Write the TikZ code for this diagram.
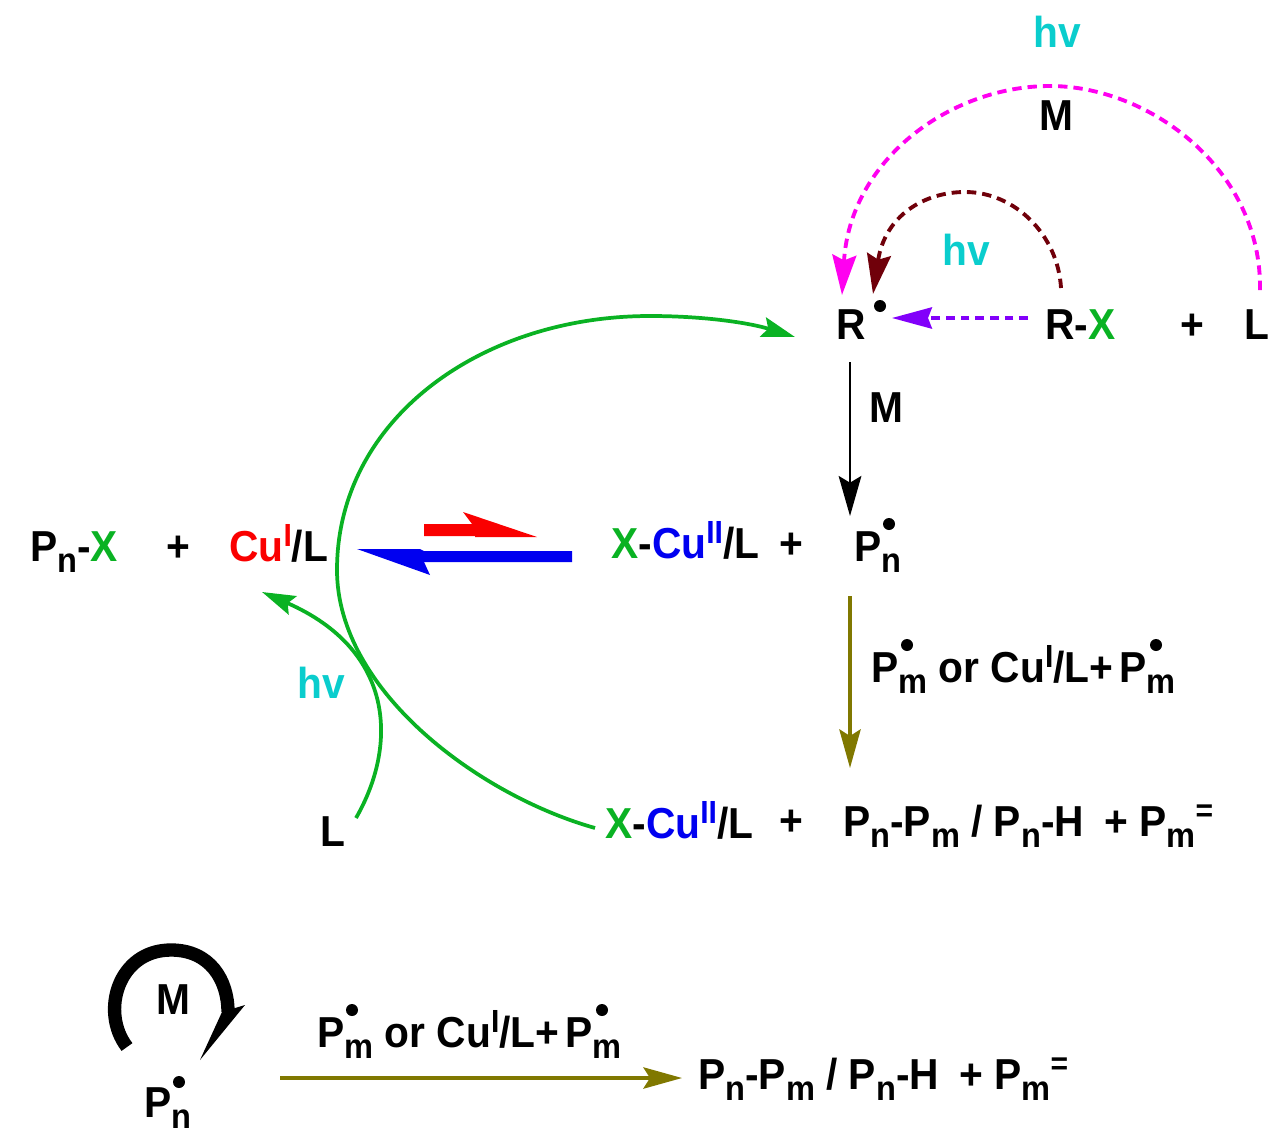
\documentclass[tikz,border=0pt]{standalone}
\usepackage{fontspec}
\setmainfont[FakeStretch=0.94]{Liberation Sans}
\usetikzlibrary{arrows.meta}
\definecolor{cgreen}{RGB}{10,178,35}
\definecolor{ccyan}{RGB}{10,205,205}
\definecolor{cmag}{RGB}{255,0,240}
\definecolor{cbrown}{RGB}{112,0,10}
\definecolor{cpurple}{RGB}{130,0,250}
\definecolor{colive}{RGB}{128,120,0}
\definecolor{cblue}{RGB}{0,0,240}
\definecolor{cred}{RGB}{250,0,0}
\newcommand{\Lo}[1]{\raisebox{-0.27em}{\fontsize{26}{26}\selectfont #1}}
\newcommand{\Hi}[1]{\raisebox{0.34em}{\fontsize{24}{24}\selectfont #1}}
\newcommand{\Xg}{\textcolor{cgreen}{X}}
\tikzset{
  lbl/.style={anchor=base west,inner sep=0pt,font=\fontsize{32.5}{38}\selectfont\bfseries},
  hv/.style={lbl,text=ccyan},
  radical/.style={circle,fill=black,inner sep=0pt,minimum size=9pt},
  gline/.style={cgreen,line width=2.8pt},
  dline/.style={line width=2.9pt,dash pattern=on 7pt off 4.5pt},
  olive/.style={colive,line width=2.4pt,-{Stealth[length=29pt,width=16pt,inset=5pt]}},
}
\begin{document}
\begin{tikzpicture}[x=0.75pt,y=-0.75pt]
\useasboundingbox (0,0) rectangle (1285,1135);
% texts
\node[hv] (hv1) at (1033,47) {hv};
\node[lbl] (m1) at (1039,130) {M};
\node[hv] (hv2) at (942,265) {hv};
\node[lbl] (r) at (836,339) {R};
\node[radical] (dotr) at (880,306) {};
\node[lbl] (rx) at (1045,339) {R-\Xg};
\node[lbl] (pl1) at (1180,339) {+};
\node[lbl] (l1) at (1244,339) {L};
\node[lbl] (m2) at (869,422) {M};
\node[lbl] (pnx) at (30,561) {P\Lo{n}-\Xg};
\node[lbl] (pl2) at (166,561) {+};
\node[lbl] (cu1) at (229,561) {\textcolor{cred}{Cu\Hi{I}}/L};
\node[lbl] (xcu1) at (611,558) {\Xg-\textcolor{cblue}{Cu\Hi{II}}/L};
\node[lbl] (pl3) at (779,558) {+};
\node[lbl] (pn1) at (854,561) {P\Lo{n}};
\node[radical] (dotn1) at (889,524) {};
\node[lbl] (hvl) at (297,698) {\textcolor{ccyan}{hv}};
\node[lbl] (pm1) at (871,682) {P\Lo{m} or Cu\Hi{I}/L+\hspace{0.14em}P\Lo{m}};
\node[radical] (dotm1) at (907,645) {};
\node[radical] (dotm2) at (1156,645) {};
\node[lbl] (xcu2) at (605,838) {\Xg-\textcolor{cblue}{Cu\Hi{II}}/L};
\node[lbl] (pl4) at (779,835) {+};
\node[lbl] (prod1) at (843,836) {P\Lo{n}-P\Lo{m} / P\Lo{n}-H\hspace{0.47em}+ P\Lo{m}\Hi{=}};
\node[lbl] (l2) at (320,846) {L};
\node[lbl] (m3) at (156,1014) {M};
\node[lbl] (pn2) at (144,1117) {P\Lo{n}};
\node[radical] (dotn2) at (179,1082) {};
\node[lbl] (pm2) at (317,1047) {P\Lo{m} or Cu\Hi{I}/L+\hspace{0.14em}P\Lo{m}};
\node[radical] (dotm3) at (352,1010) {};
\node[radical] (dotm4) at (602,1010) {};
\node[lbl] (prod2) at (698,1089) {P\Lo{n}-P\Lo{m} / P\Lo{n}-H\hspace{0.47em}+ P\Lo{m}\Hi{=}};
% connector ends
\coordinate (a1) at (1260,290); \coordinate (a2) at (842,295);
\coordinate (b1) at (1061,288); \coordinate (b2) at (873,294);
\coordinate (c1) at (1028,318); \coordinate (c2) at (892,318);
\coordinate (d1) at (850,362); \coordinate (d2) at (850,516);
\coordinate (e1) at (850,596); \coordinate (e2) at (850,768);
\coordinate (f1) at (280,1078); \coordinate (f2) at (682,1078);
\coordinate (g1) at (595,828); \coordinate (g2) at (795,337);
\coordinate (h1) at (356,818); \coordinate (h2) at (262,592);
% magenta
\draw[cmag,dline,-{Stealth[length=30pt,width=18pt,inset=4pt]}] (a1) .. controls (1262,170) and (1150,86) .. (1050,86) .. controls (950,86) and (850,160) .. (a2);
% brown
\draw[cbrown,dline,-{Stealth[length=30pt,width=18pt,inset=4pt]}] (b1) .. controls (1058,235) and (1015,192) .. (965,192) .. controls (925,192) and (885,215) .. (b2);
% purple
\draw[cpurple,line width=2.3pt,dash pattern=on 6.5pt off 4.5pt,-{Stealth[length=30pt,width=16pt,inset=3pt]}] (c1) -- (c2);
% straight
\draw[line width=1.9pt,-{Stealth[length=30pt,width=17pt,inset=5pt]}] (d1) -- (d2);
\draw[olive] (e1) -- (e2);
\draw[olive] (f1) -- (f2);
% green
\draw[gline,-{Stealth[length=25pt,width=15pt,inset=4pt]}] (g1) .. controls (478,795) and (337,690) .. (337,570) .. controls (337,420) and (480,316) .. (650,316) .. controls (705,316) and (750,323) .. (g2);
\draw[gline,-{Stealth[length=25pt,width=15pt,inset=4pt]}] (h1) .. controls (398,745) and (395,650) .. (h2);
% equilibrium half arrows
\fill[cred] (424,524) -- (472,524) -- (463,512) -- (537,537) -- (475,537) -- (475,536) -- (424,536) -- cycle;
\fill[cblue] (572,551) -- (424,551) -- (420,549) -- (357,549) -- (430,575) -- (424,562) -- (572,562) -- cycle;
% self-propagation arrow
\draw[line width=10pt] (127,1047) .. controls (100,1012) and (118,950) .. (171,950) .. controls (210,950) and (228,980) .. (228,1012);
\fill (245,1005) -- (200,1060) -- (222,1012) -- cycle;
\end{tikzpicture}
\end{document}
